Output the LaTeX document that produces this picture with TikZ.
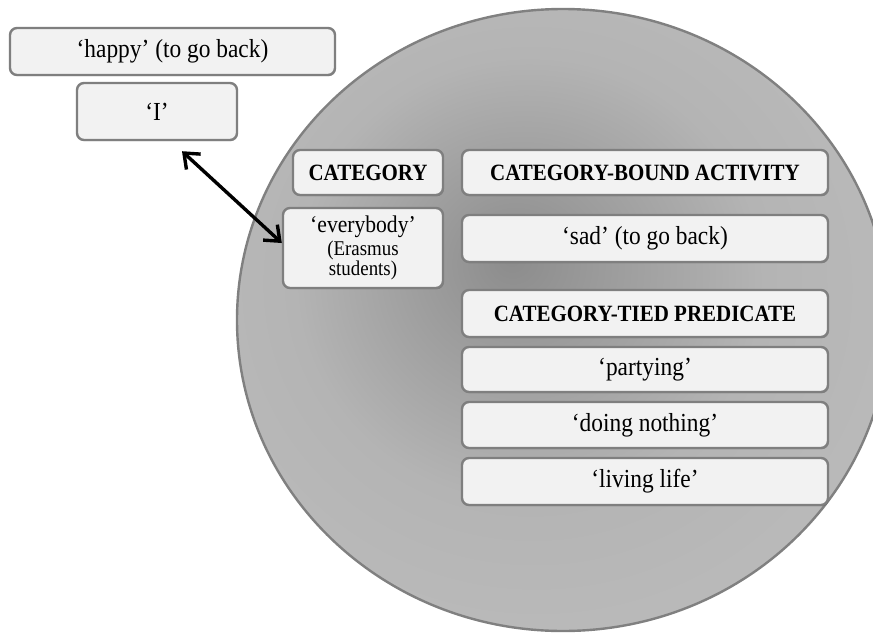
\documentclass[tikz,border=0pt]{standalone}
\usepackage{fontspec}
\setmainfont{Liberation Serif}[FakeStretch=0.9]
\usetikzlibrary{arrows.meta,shadows}

\definecolor{boxfill}{HTML}{F2F2F2}
\definecolor{boxline}{HTML}{7F7F7F}
\definecolor{discline}{HTML}{808080}
\definecolor{discA}{HTML}{8C8C8C}
\definecolor{discB}{HTML}{9A9A9A}
\definecolor{discC}{HTML}{B4B4B4}
\definecolor{discD}{HTML}{C6C6C6}

% darker core slightly up and left of the disc centre
\pgfdeclareradialshading{discshade}{\pgfpoint{-4bp}{5bp}}{%
  color(0bp)=(discA); color(6bp)=(discB); color(18bp)=(discC); color(50bp)=(discD)}

\newcommand{\bigline}{\fontsize{24}{22}\selectfont}
\newcommand{\smallline}{\fontsize{21}{19}\selectfont}

\begin{document}
\begin{tikzpicture}[x=1pt,y=-1pt,
  lbox/.style={draw=boxline, fill=boxfill, line width=2.4pt, rounded corners=7pt,
    inner sep=2pt, align=center, font=\fontsize{26}{28}\selectfont,
    drop shadow={shadow xshift=0.8pt, shadow yshift=-1.2pt, fill=black, opacity=0.25}},
  hbox/.style={lbox, font=\fontsize{23.3}{25}\selectfont\bfseries},
  link/.style={line width=3.4pt,
    {Straight Barb[length=13pt,width=21pt]}-{Straight Barb[length=13pt,width=21pt]}}]

\clip (0,0) rectangle (873,635);
\fill[white] (0,0) rectangle (873,635);

% the disc
\path[shading=discshade, draw=discline, line width=2.4pt]
  (563,320) ellipse [x radius=326, y radius=311];

% boxes outside the disc
\node[lbox, minimum width=325, minimum height=47] (happy) at (172.5,51.5) {‘happy’ (to go back)};
\node[lbox, minimum width=160, minimum height=57] (iq) at (157,111.5) {‘I’};

% category column
\node[hbox, minimum width=150, minimum height=45] (cat) at (368,172.5) {CATEGORY};
\node[lbox, minimum width=160, minimum height=80, font=\smallline] (every) at (363,248)
  {\bigline ‘everybody’\\[3pt] \smallline (Erasmus\\ \smallline students)};

% activity / predicate column
\node[hbox, minimum width=366, minimum height=45] (cba) at (645,172.5) {CATEGORY-BOUND ACTIVITY};
\node[lbox, minimum width=366, minimum height=47] (sad) at (645,238.5) {‘sad’ (to go back)};
\node[hbox, minimum width=366, minimum height=47] (ctp) at (645,313.5) {CATEGORY-TIED PREDICATE};
\node[lbox, minimum width=366, minimum height=45] (party) at (645,369.5) {‘partying’};
\node[lbox, minimum width=366, minimum height=46] (nothing) at (645,425) {‘doing nothing’};
\node[lbox, minimum width=366, minimum height=47] (life) at (645,481.5) {‘living life’};

% two-way link between 'I' and 'everybody'
\draw[link] ([xshift=25pt,yshift=-10pt]iq.south) -- ([yshift=5pt]every.west);

\end{tikzpicture}
\end{document}
